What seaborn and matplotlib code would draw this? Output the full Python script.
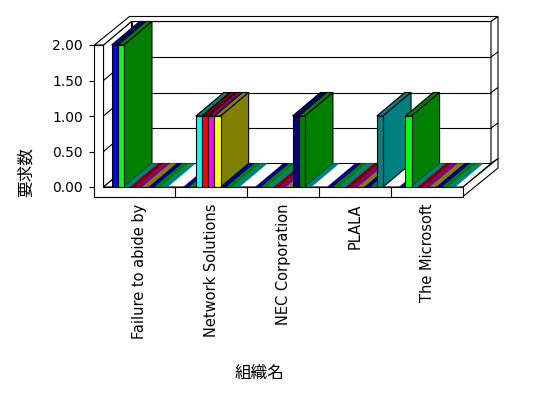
import matplotlib
matplotlib.use("Agg")
import matplotlib.pyplot as plt
from matplotlib.patches import Polygon, Rectangle
from matplotlib.colors import to_hex
import pandas as pd
import seaborn as sns

# ---------------- data ----------------
categories = ["Failure to abide by", "Network Solutions", "NEC Corporation", "PLALA", "The Microsoft"]
series_names = ["系列1", "系列2", "系列3", "系列4", "系列5", "系列6", "系列7", "系列8", "系列9"]
s1 = [2, 0, 0, 0, 0]
s2 = [2, 0, 0, 0, 1]
s3 = [0, 1, 0, 0, 0]
s4 = [0, 1, 0, 0, 0]
s5 = [0, 1, 0, 0, 0]
s6 = [0, 1, 0, 0, 0]
s7 = [0, 0, 1, 0, 0]
s8 = [0, 0, 1, 0, 0]
s9 = [0, 0, 0, 1, 0]
series_values = [s1, s2, s3, s4, s5, s6, s7, s8, s9]
y_ticks = [0.0, 0.5, 1.0, 1.5, 2.0]
y_tick_labels = ["0.00", "0.50", "1.00", "1.50", "2.00"]
x_title = "組織名"
y_title = "要求数"

# ---------------- style ----------------
front_colors = ["#0000FF", "#00FF00", "#00FFFF", "#FF0000", "#FF00FF",
                "#FFFF00", "#000080", "#008000", "#008080"]
shade_colors = ["#000080", "#008000", "#008080", "#800000", "#800080",
                "#808000", "#000080", "#008000", "#008080"]
shade_map = {to_hex(f): s for f, s in zip(front_colors, shade_colors)}

sns.set_theme(style="white")
plt.rcParams["font.family"] = ["DejaVu Sans", "Noto Sans CJK JP"]

rows = []
for name, vals in zip(series_names, series_values):
    for cat, v in zip(categories, vals):
        rows.append({"組織名": cat, "要求数": v, "系列": name})
df = pd.DataFrame(rows)

W_PX, H_PX = 548, 398
AX_L, AX_R, AX_B, AX_T = 103.5, 463.0, 187.0, 45.0
fig = plt.figure(figsize=(W_PX / 100, H_PX / 100), dpi=100)
fig.patch.set_facecolor("white")
ax = fig.add_axes([AX_L / W_PX, 1 - AX_B / H_PX, (AX_R - AX_L) / W_PX, (AX_B - AX_T) / H_PX])
ax.set_facecolor("none")

sns.barplot(data=df, x="組織名", y="要求数", hue="系列", order=categories,
            hue_order=series_names, palette=front_colors, saturation=1,
            width=0.775, errorbar=None, edgecolor="black", linewidth=0.8,
            legend=False, ax=ax)
bars = [p for p in ax.patches if isinstance(p, Rectangle)]
bars = sorted(bars, key=lambda p: p.get_x())

x_lo, x_hi = -0.5, len(categories) - 0.5
y_lo, y_hi = y_ticks[0], y_ticks[-1]
ax.set_xlim(x_lo, x_hi)
ax.set_ylim(y_lo, y_hi)

xs = (AX_R - AX_L) / (x_hi - x_lo)   # px per x unit
ys = (AX_B - AX_T) / (y_hi - y_lo)   # px per y unit
DX, DY = 28 / xs, 23.5 / ys          # depth of the chart box
BX, BY = 7 / xs, 5 / ys              # back wall thickness
T = 9 / xs                           # left wall thickness
F = 9.5 / ys                         # floor thickness

def poly(pts, fc="white", ec="black", lw=0.8, z=1):
    ax.add_patch(Polygon(pts, closed=True, facecolor=fc, edgecolor=ec,
                         linewidth=lw, clip_on=False, zorder=z, joinstyle="miter"))

def line(xx, yy, z=1.5):
    ax.plot(xx, yy, color="black", linewidth=0.8, clip_on=False, zorder=z,
            solid_capstyle="butt")

# walls and floor
poly([(x_lo + DX, y_lo + DY), (x_hi + DX, y_lo + DY), (x_hi + DX, y_hi + DY), (x_lo + DX, y_hi + DY)])
poly([(x_lo, y_lo), (x_lo, y_hi), (x_lo + DX, y_hi + DY), (x_lo + DX, y_lo + DY)])
poly([(x_lo, y_lo), (x_hi, y_lo), (x_hi + DX, y_lo + DY), (x_lo + DX, y_lo + DY)])
poly([(x_lo - T, y_hi), (x_lo, y_hi), (x_lo + DX, y_hi + DY), (x_hi + DX, y_hi + DY),
      (x_hi + DX + BX, y_hi + DY + BY), (x_lo - T + DX + BX, y_hi + DY + BY)])
poly([(x_hi + DX, y_lo + DY), (x_hi + DX, y_hi + DY), (x_hi + DX + BX, y_hi + DY + BY),
      (x_hi + DX + BX, y_lo + DY + BY)])
poly([(x_hi, y_lo), (x_hi + DX + BX, y_lo + DY + BY), (x_hi + DX + BX, y_lo + DY + BY - F),
      (x_hi, y_lo - F)])
poly([(x_lo - T, y_hi), (x_lo, y_hi), (x_lo, y_lo), (x_hi, y_lo), (x_hi, y_lo - F),
      (x_lo - T, y_lo - F)], z=6)

for g in y_ticks[1:-1]:
    line([x_lo + DX, x_hi + DX], [g + DY, g + DY])
    line([x_lo, x_lo + DX], [g, g + DY])
    line([x_hi + DX, x_hi + DX + BX], [g + DY, g + DY + BY])
for b in range(len(categories) - 1):
    line([b + 0.5, b + 0.5], [y_lo, y_lo - F], z=6.5)

# 3D faces of the bars, drawn left to right
for i, p in enumerate(bars):
    z = 3 + i * 0.01
    x0, w, h = p.get_x(), p.get_width(), p.get_height()
    x1 = x0 + w
    shade = shade_map.get(to_hex(p.get_facecolor()), "#808080")
    p.set_clip_on(False)
    if h > 0:
        poly([(x0, h), (x1, h), (x1 + DX, h + DY), (x0 + DX, h + DY)], fc=shade, z=z)
        poly([(x1, 0), (x1, h), (x1 + DX, h + DY), (x1 + DX, DY)], fc=shade, z=z)
        p.set_zorder(z + 0.005)
    else:
        poly([(x0, 0), (x1, 0), (x1 + DX, DY), (x0 + DX, DY)], fc=shade, ec=shade, lw=0.3, z=z)
        p.set_visible(False)

# axes
for s in ax.spines.values():
    s.set_visible(False)
ax.spines["left"].set_position(("outward", 9 * 0.72))
ax.set_yticks(y_ticks)
ax.set_yticklabels(y_tick_labels)
ax.tick_params(axis="y", direction="out", length=4.3, width=0.8, color="black",
               pad=4, labelsize=10, left=True, labelcolor="black")
ax.set_xticks(range(len(categories)))
ax.set_xticklabels(categories, rotation=90, fontsize=10.5, color="black")
ax.tick_params(axis="x", length=0, pad=12)

ax.set_xlabel(x_title, fontsize=12, color="black")
ax.xaxis.label.set_va("center")
ax.xaxis.set_label_coords((260 - AX_L) / (AX_R - AX_L), (AX_B - 373) / (AX_B - AX_T))
ax.set_ylabel(y_title, fontsize=12, color="black")
ax.yaxis.label.set_va("center")
ax.yaxis.set_label_coords((25.5 - AX_L) / (AX_R - AX_L), (AX_B - 172) / (AX_B - AX_T))

fig.savefig("out.png", dpi=100, facecolor="white")
